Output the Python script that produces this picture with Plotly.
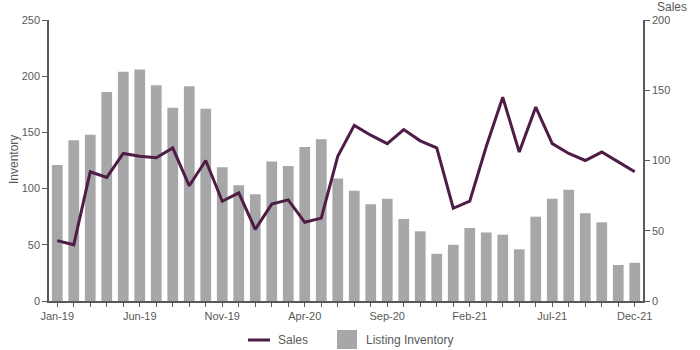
import plotly.graph_objects as go

months = ["Jan-19","Feb-19","Mar-19","Apr-19","May-19","Jun-19","Jul-19","Aug-19","Sep-19","Oct-19","Nov-19","Dec-19",
          "Jan-20","Feb-20","Mar-20","Apr-20","May-20","Jun-20","Jul-20","Aug-20","Sep-20","Oct-20","Nov-20","Dec-20",
          "Jan-21","Feb-21","Mar-21","Apr-21","May-21","Jun-21","Jul-21","Aug-21","Sep-21","Oct-21","Nov-21","Dec-21"]
inventory = [121,143,148,186,204,206,192,172,191,171,119,103,
             95,124,120,137,144,109,98,86,91,73,62,42,
             50,65,61,59,46,75,91,99,78,70,32,34]
sales = [43,40,92,88,105,103,102,109,82,100,71,77,
         51,69,72,56,59,103,125,118,112,122,114,109,
         66,71,110,145,106,138,112,105,100,106,99,92]
tick_labels = {0:"Jan-19",5:"Jun-19",10:"Nov-19",15:"Apr-20",20:"Sep-20",25:"Feb-21",30:"Jul-21",35:"Dec-21"}

BAR = "#A7A7AA"
LINE = "#4F1C45"
AX = "#595959"
FONT = "Liberation Sans, Arial, sans-serif"

fig = go.Figure()
fig.add_trace(go.Bar(x=months, y=inventory, name="Listing Inventory", marker_color=BAR,
                     marker_line_width=0, yaxis="y", showlegend=False))
fig.add_trace(go.Scatter(x=months, y=sales, name="Sales", mode="lines",
                         line=dict(color=LINE, width=3), yaxis="y2", showlegend=False))

L, R, T, B = 49, 57, 20, 49
W, H = 700, 350
pw, ph = W - L - R, H - T - B
def px(x): return (x - L) / pw
def py(y): return (H - B - y) / ph

fig.update_layout(
    width=W, height=H, margin=dict(l=L, r=R, t=T, b=B, autoexpand=False),
    paper_bgcolor="white", plot_bgcolor="white",
    font=dict(family=FONT, size=11, color=AX),
    bargap=0.35,
    xaxis=dict(type="category", categoryorder="array", categoryarray=months,
               range=[-0.5, 35.5], tickmode="array", tickvals=months,
               ticktext=[tick_labels.get(i, "") for i in range(len(months))],
               ticks="outside", ticklen=4, tickcolor=AX, showline=True, linecolor=AX,
               linewidth=1.5, showgrid=False, tickangle=0, automargin=False,
               tickfont=dict(size=11, color=AX)),
    yaxis=dict(range=[0, 250], dtick=50, ticks="outside", ticklen=5, tickcolor=AX,
               showline=True, linecolor=AX, linewidth=1.5, showgrid=False, zeroline=False,
               automargin=False),
    yaxis2=dict(range=[0, 200], dtick=50, overlaying="y", side="right", ticks="outside",
                ticklen=5, tickcolor=AX, showline=True, linecolor=AX, linewidth=1.5,
                showgrid=False, zeroline=False, automargin=False),
)

fig.add_annotation(text="Inventory", xref="paper", yref="paper", x=px(14), y=py(160),
                   xanchor="center", yanchor="middle", textangle=-90, showarrow=False,
                   font=dict(size=12, color=AX))
fig.add_annotation(text="Sales", xref="paper", yref="paper", x=px(655), y=py(7),
                   xanchor="left", yanchor="middle", showarrow=False,
                   font=dict(size=12, color=AX))

# custom legend
fig.add_shape(type="line", xref="paper", yref="paper", x0=px(248), x1=px(270),
              y0=py(340), y1=py(340), line=dict(color=LINE, width=3))
fig.add_annotation(text="Sales", xref="paper", yref="paper", x=px(276), y=py(340),
                   xanchor="left", yanchor="middle", showarrow=False,
                   font=dict(size=12, color=AX))
fig.add_shape(type="rect", xref="paper", yref="paper", x0=px(337), x1=px(357),
              y0=py(349), y1=py(330), fillcolor=BAR, line=dict(width=0))
fig.add_annotation(text="Listing Inventory", xref="paper", yref="paper", x=px(364), y=py(340),
                   xanchor="left", yanchor="middle", showarrow=False,
                   font=dict(size=12, color=AX))

fig.write_html("out.html")
